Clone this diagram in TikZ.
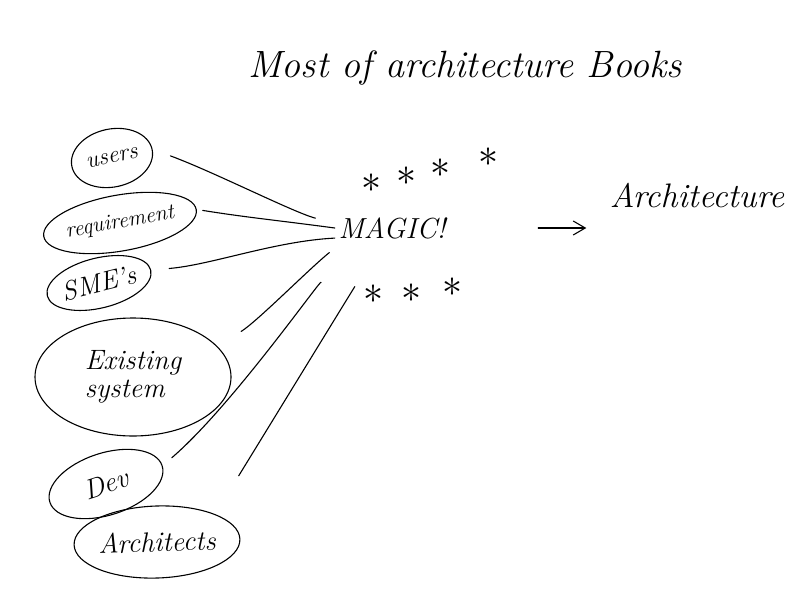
\documentclass[tikz,border=0pt]{standalone}
\usetikzlibrary{shapes.geometric,arrows.meta,calc}

\begin{document}
\begin{tikzpicture}[x=1pt,y=-1pt,
  pen/.style={line width=1.1pt,line cap=round},
  blob/.style={pen,draw,ellipse,inner sep=0pt,align=left,font=\itshape\fontsize{#1}{#1}\selectfont},
  blob/.default=24,
  link/.style={pen},
  twinkle/.style={inner sep=0pt}]
\useasboundingbox (0,0) rectangle (810,610);
\node[font=\itshape\fontsize{38}{38}\selectfont] (title) at (465,68) {Most of architecture Books};
% what goes in
\node[blob,minimum width=82pt,minimum height=58pt,rotate=12] (users) at (112,158) {users};
\node[blob=22,minimum width=134pt,minimum height=56pt,rotate=10] (req) at (120,223) {requirement};
\node[blob=27,minimum width=106pt,minimum height=50pt,rotate=14] (sme) at (99,283) {SME's};
\node[blob=28,minimum width=196pt,minimum height=118pt] (exist) at (133,377) {Existing\\system};
\node[blob=28,minimum width=118pt,minimum height=62pt,rotate=18] (dev) at (106,484) {Dev};
\node[blob=28,minimum width=164pt,minimum height=72pt,rotate=2] (arch) at (157,542) {Architects};
% the middle
\node[inner sep=0pt,minimum width=114pt,minimum height=40pt,font=\itshape\fontsize{29}{29}\selectfont] (magic) at (392,228) {MAGIC!};
\foreach \p [count=\i] in {(371,183),(406,176),(440,168),(488,157),(373,294),(411,293),(452,287)}
  \node[twinkle] (star\i) at \p {\scalebox{4}{$\ast$}};
\node[font=\itshape\fontsize{34}{34}\selectfont] (archi) at (697,196) {Architecture};
% links
\draw[link,shorten <=19pt,shorten >=20pt] (users.east) .. controls +(60,22) and +(-40,-10) .. (magic.175);
\draw[link,shorten <=6pt] (req.east) .. controls +(50,8) and +(-60,-8) .. (magic.west);
\draw[link,shorten <=18pt] (sme.east) .. controls +(60,-5) and +(-60,3) .. (magic.190);
\draw[link,shorten <=28pt,shorten >=7pt] (exist.20) .. controls +(40,-25) and +(-25,20) .. (magic.south west);
\draw[link,shorten <=12pt,shorten >=37pt] (dev.east) .. controls +(70,-60) and +(-10,25) .. (magic.south west);
\draw[link,shorten <=45pt,shorten >=45pt] (arch.north east) .. controls +(40,-65) and +(-15,25) .. (magic.-125);
\draw[pen,-{Straight Barb[length=12pt,width=14pt]},shorten <=89pt,shorten >=20pt] (magic.east) -- (magic.east -| archi.west);
\end{tikzpicture}
\end{document}
